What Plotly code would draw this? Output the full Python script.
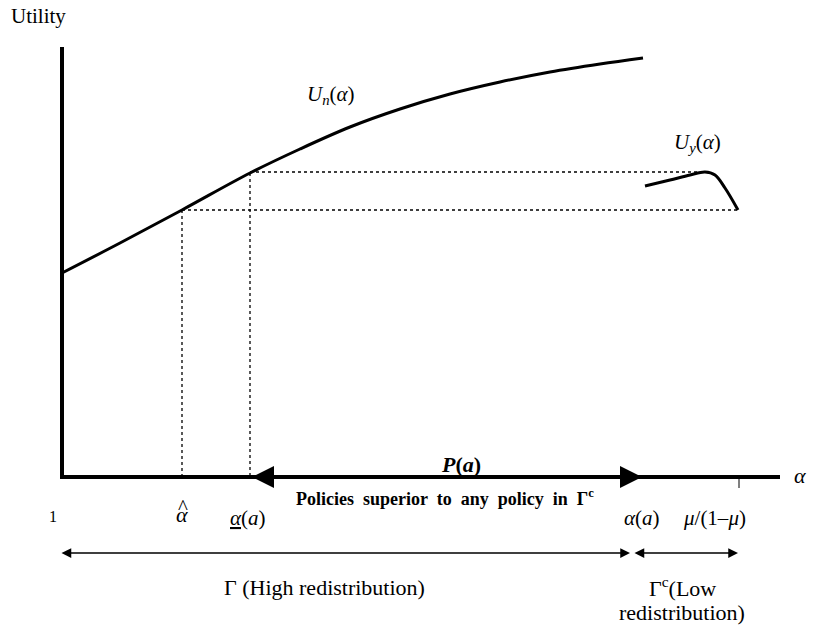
import plotly.graph_objects as go

# Diagram coordinates (x to the right, y measured downward like the original figure)
un_x = [62, 120, 182, 250, 300, 350, 400, 450, 500, 550, 600, 643]
un_y = [273, 243, 210, 173, 149, 127, 109, 94, 82, 72, 64, 58]

uy_x = [645, 670, 690, 705, 715, 725, 738]
uy_y = [186, 180, 175, 172, 175, 188, 210]

axis_x0, axis_x1, axis_y = 60, 780, 477
yaxis_top = 47

alpha_hat, alpha_low, alpha_high, mu_ratio = 182, 250, 642, 739
u_hat, u_low = 210, 173
uy_max, uy_end = 172, 210

SERIF = "Liberation Serif"

fig = go.Figure()

# axes
fig.add_trace(go.Scatter(x=[62, 62], y=[yaxis_top, axis_y + 2], mode="lines",
                         line=dict(color="black", width=4)))
fig.add_trace(go.Scatter(x=[axis_x0, axis_x1], y=[axis_y, axis_y], mode="lines",
                         line=dict(color="black", width=4)))
fig.add_trace(go.Scatter(x=[mu_ratio, mu_ratio], y=[axis_y, axis_y + 11], mode="lines",
                         line=dict(color="black", width=1)))

# dotted guides
dot = dict(color="black", width=1.3, dash="dot")
fig.add_trace(go.Scatter(x=[alpha_low, 710], y=[uy_max, uy_max], mode="lines", line=dot))
fig.add_trace(go.Scatter(x=[alpha_hat, 738], y=[uy_end, uy_end], mode="lines", line=dot))
fig.add_trace(go.Scatter(x=[alpha_hat, alpha_hat], y=[u_hat, axis_y], mode="lines", line=dot))
fig.add_trace(go.Scatter(x=[alpha_low, alpha_low], y=[u_low, axis_y], mode="lines", line=dot))

# utility curves
fig.add_trace(go.Scatter(x=un_x, y=un_y, mode="lines",
                         line=dict(color="black", width=3, shape="spline")))
fig.add_trace(go.Scatter(x=uy_x, y=uy_y, mode="lines",
                         line=dict(color="black", width=3, shape="spline")))

# arrows on the axis (P(a) range)
for tip, tail in [(alpha_low + 2, 450), (alpha_high, 450)]:
    fig.add_annotation(x=tip, y=axis_y, ax=tail, ay=axis_y, xref="x", yref="y",
                       axref="x", ayref="y", text="", showarrow=True,
                       arrowhead=2, arrowsize=1.1, arrowwidth=4, arrowcolor="black")

# bottom double arrows
for a, b in [(60, 630), (633, 738)]:
    fig.add_annotation(x=b, y=553, ax=a, ay=553, xref="x", yref="y",
                       axref="x", ayref="y", text="", showarrow=True,
                       arrowhead=2, arrowside="end+start", arrowsize=1.3,
                       arrowwidth=1.5, arrowcolor="black")

texts = [
    (9, 16, "Utility", 21, "left"),
    (331, 95, "<i>U<sub>n</sub></i>(<i>α</i>)", 21, "center"),
    (697, 143, "<i>U<sub>y</sub></i>(<i>α</i>)", 21, "center"),
    (800, 475, "<i>α</i>", 22, "center"),
    (53, 516, "1", 16, "center"),
    (182, 514, "<i>α</i>", 22, "center"),
    (183, 507, "^", 21, "center"),
    (248, 518, "<u><i>α</i></u>(<i>a</i>)", 21, "center"),
    (642, 518, "<i>α</i>(<i>a</i>)", 21, "center"),
    (714, 518, "<i>μ</i>/(1–<i>μ</i>)", 21, "center"),
    (461, 464, "<b><i>P</i>(<i>a</i>)</b>", 22, "center"),
    (445, 497, "<b>Policies  superior  to  any  policy  in  Γ<sup>c</sup></b>", 18, "center"),
    (324, 587, "Γ (High redistribution)", 22, "center"),
    (682, 587, "Γ<sup>c</sup>(Low", 22, "center"),
    (682, 612, "redistribution)", 22, "center"),
]
for x, y, t, s, anchor in texts:
    fig.add_annotation(x=x, y=y, xref="x", yref="y", text=t, showarrow=False,
                       xanchor=anchor, yanchor="middle",
                       font=dict(family=SERIF, size=s, color="black"))

# the page body adds an 8px offset, so the plot covers pixels 8..822 / 8..625
fig.update_xaxes(range=[8, 822], visible=False, fixedrange=True)
fig.update_yaxes(range=[625, 8], visible=False, fixedrange=True)
fig.update_layout(width=814, height=617, margin=dict(l=0, r=0, t=0, b=0),
                  plot_bgcolor="white", paper_bgcolor="white", showlegend=False)

fig.write_html("out.html")
